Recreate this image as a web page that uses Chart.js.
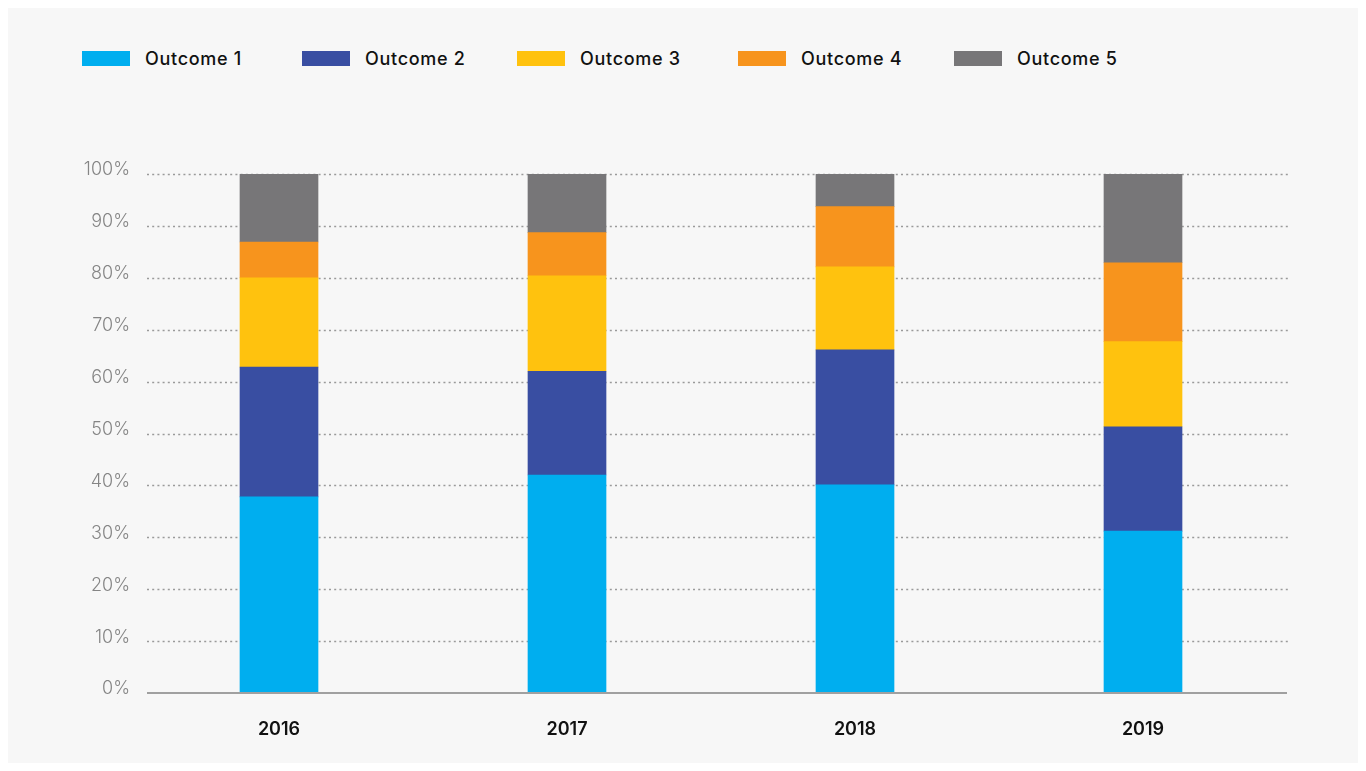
<!DOCTYPE html>
<html>
<head>
<meta charset="utf-8">
<title>Outcomes by year</title>
<script src="https://cdn.jsdelivr.net/npm/chart.js@4.4.1/dist/chart.umd.min.js"></script>
<style>
    html, body { margin: 0; padding: 0; background: #ffffff; }
    .panel {
        position: absolute;
        left: 8px; top: 8px;
        width: 1350px; height: 755px;
        background: #f7f7f7;
    }
    .legend { position: absolute; left: 0; top: 0; }
    .legend-item {
        position: absolute;
        top: 40px;
        display: flex;
        align-items: center;
        white-space: nowrap;
        font-family: Inter, "Open Sans", sans-serif;
        font-weight: 500;
        font-size: 18px;
        letter-spacing: 0.7px;
        color: #111;
    }
    .legend-item .box {
        display: inline-block;
        width: 48px; height: 15px;
        margin-right: 15px;
    }
    canvas { position: absolute; left: 0; top: 0; }
</style>
</head>
<body>
<div class="panel">
    <div class="legend" id="legend"></div>
    <canvas id="outcomes" width="1350" height="755"></canvas>
</div>
<script>
const years = ['2016', '2017', '2018', '2019'];
const seriesNames = ['Outcome 1', 'Outcome 2', 'Outcome 3', 'Outcome 4', 'Outcome 5'];
const outcome1 = [37.8, 42.0, 40.1, 31.2];
const outcome2 = [25.0, 20.0, 26.0, 20.1];
const outcome3 = [17.2, 18.4, 16.0, 16.4];
const outcome4 = [6.9, 8.3, 11.6, 15.2];
const outcome5 = [13.1, 11.3, 6.3, 17.1];
const yTicks = [0, 10, 20, 30, 40, 50, 60, 70, 80, 90, 100];

const colors = ['#00aeef', '#394ea2', '#ffc20e', '#f7941d', '#777678'];
const legendLeft = [74, 294, 509, 730, 946];

// html legend across the top
const legendEl = document.getElementById('legend');
seriesNames.forEach(function (name, i) {
    const item = document.createElement('div');
    item.className = 'legend-item';
    item.style.left = legendLeft[i] + 'px';
    item.innerHTML = '<span class="box" style="background:' + colors[i] + '"></span>' + name;
    legendEl.appendChild(item);
});

// dotted grid + solid baseline, starting a bit right of the chart area
const gridLines = {
    id: 'gridLines',
    beforeDatasetsDraw(chart) {
        const ctx = chart.ctx;
        const y = chart.scales.y;
        const area = chart.chartArea;
        ctx.save();
        ctx.strokeStyle = '#9a9a9a';
        ctx.lineWidth = 1.5;
        ctx.setLineDash([2, 3.2]);
        yTicks.forEach(function (v) {
            if (v === 0) return;
            const py = Math.round(y.getPixelForValue(v)) + 0.5;
            ctx.beginPath();
            ctx.moveTo(area.left + 12, py);
            ctx.lineTo(area.right + 1, py);
            ctx.stroke();
        });
        ctx.restore();
    },
    afterDatasetsDraw(chart) {
        const ctx = chart.ctx;
        const area = chart.chartArea;
        const py = chart.scales.y.getPixelForValue(0);
        ctx.save();
        ctx.strokeStyle = '#a0a0a0';
        ctx.lineWidth = 2;
        ctx.beginPath();
        ctx.moveTo(area.left + 12, py);
        ctx.lineTo(area.right, py);
        ctx.stroke();
        ctx.restore();
    }
};

const seriesData = [outcome1, outcome2, outcome3, outcome4, outcome5];

const ctx = document.getElementById('outcomes').getContext('2d');
const outcomesChart = new Chart(ctx, {
    type: 'bar',
    data: {
        labels: years,
        datasets: seriesNames.map(function (name, i) {
            return {
                label: name,
                data: seriesData[i],
                backgroundColor: colors[i],
                borderWidth: 0,
                barThickness: 78
            };
        })
    },
    options: {
        responsive: false,
        animation: false,
        layout: {
            padding: { top: 166, right: 71, bottom: 0, left: 0 }
        },
        scales: {
            x: {
                stacked: true,
                grid: { display: false, drawTicks: false },
                border: { display: false },
                ticks: {
                    padding: 26,
                    color: '#111',
                    font: { family: 'Inter', size: 18, weight: '600' }
                },
                afterFit: function (scale) { scale.height = 70; }
            },
            y: {
                stacked: true,
                min: 0,
                max: 100,
                grid: { display: false, drawTicks: false },
                border: { display: false },
                afterBuildTicks: function (scale) {
                    scale.ticks = yTicks.map(function (v) { return { value: v }; });
                },
                ticks: {
                    padding: 5,
                    labelOffset: -4,
                    color: '#858585',
                    font: { family: 'Inter', size: 18, weight: '300' },
                    callback: function (v) { return v + '%'; }
                },
                afterFit: function (scale) { scale.width = 127; }
            }
        },
        plugins: {
            legend: { display: false },
            tooltip: { enabled: false }
        }
    },
    plugins: [gridLines]
});
</script>
</body>
</html>
